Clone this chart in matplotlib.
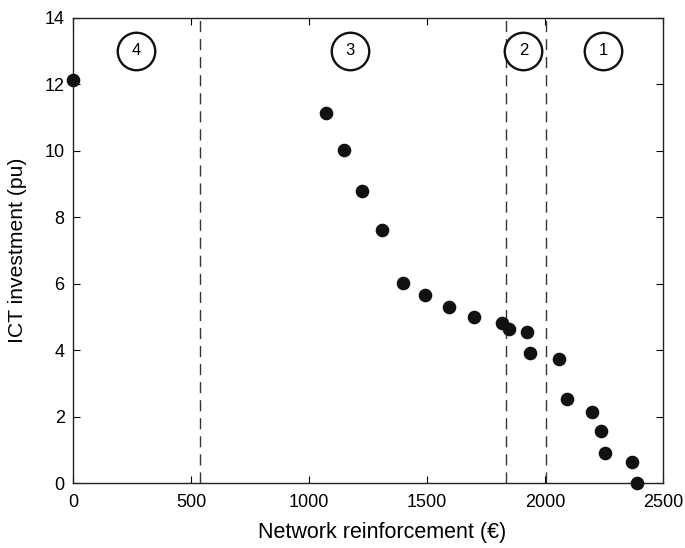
import matplotlib.pyplot as plt

# network reinforcement cost vs ICT investment
reinforcement = [0, 1073, 1146, 1225, 1309, 1397, 1492, 1593, 1701, 1816, 1846,
                 1923, 1937, 2060, 2091, 2200, 2235, 2252, 2367, 2389]
ict_invest = [12.12, 11.12, 10.02, 8.80, 7.63, 6.03, 5.66, 5.30, 5.00, 4.81, 4.64,
              4.54, 3.91, 3.73, 2.54, 2.15, 1.56, 0.90, 0.65, 0.02]

# region boundaries and region labels
boundaries = [538, 1834, 2004]
region_x = [266, 1172, 1908, 2246]
region_labels = ["4", "3", "2", "1"]
region_y = 13

plt.rcParams['font.family'] = ['Liberation Sans', 'DejaVu Sans']

fig = plt.figure(figsize=(6.85, 5.48), dpi=100)
ax = fig.add_axes([0.1066, 0.118, 0.8614, 0.8497])

for b in boundaries:
    ax.axvline(b, color='#333333', linestyle=(0, (8, 5)), linewidth=1.0, zorder=1)

ax.plot(reinforcement, ict_invest, 'o', color='#111111', markersize=8.8,
        clip_on=False, zorder=3)

for x, lab in zip(region_x, region_labels):
    ax.plot(x, region_y, 'o', markersize=27, markerfacecolor='white',
            markeredgecolor='#111111', markeredgewidth=1.7, zorder=4)
    ax.text(x, region_y, lab, ha='center', va='center', fontsize=12, zorder=5)

ax.set_xlim(0, 2500)
ax.set_ylim(0, 14)
ax.set_xticks([0, 500, 1000, 1500, 2000, 2500])
ax.set_yticks([0, 2, 4, 6, 8, 10, 12, 14])
ax.tick_params(direction='in', top=True, right=True, length=5, width=0.8,
               labelsize=13)
ax.tick_params(axis='x', pad=8)
ax.tick_params(axis='y', pad=6)
for s in ax.spines.values():
    s.set_linewidth(1.0)
    s.set_color('#222222')

ax.set_xlabel("Network reinforcement (€)", fontsize=15.5)
ax.set_ylabel("ICT investment (pu)", fontsize=15.2)
ax.xaxis.set_label_coords(0.524, -0.082)
ax.yaxis.set_label_coords(-0.078, 0.5)

fig.savefig("out.png", dpi=100)
